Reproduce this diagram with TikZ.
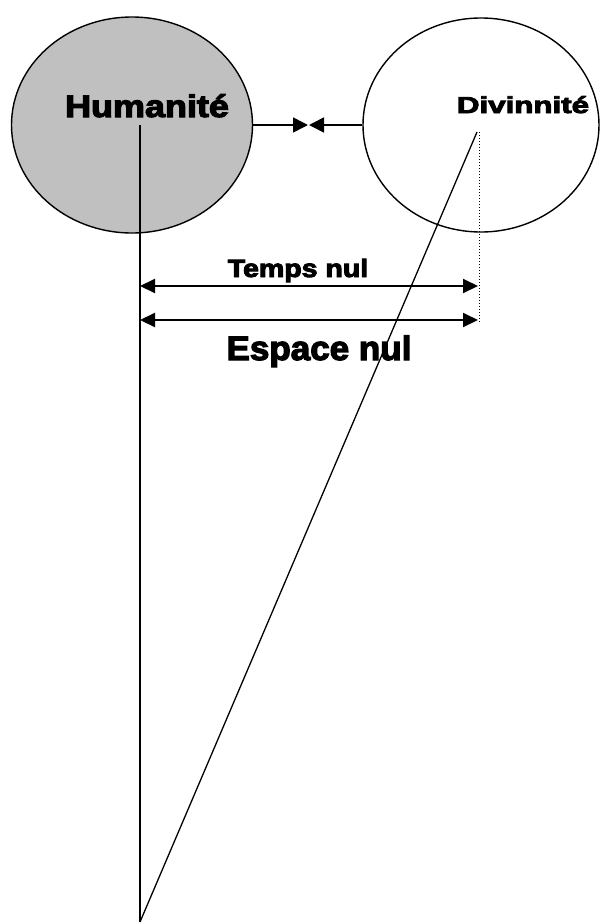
\documentclass[tikz,border=0pt]{standalone}
\usepackage{fontspec}
\usepackage{graphicx}
\usetikzlibrary{shapes.geometric,arrows.meta}
\newfontfamily\blk{Liberation Sans}[BoldFeatures={FakeBold=3.5}]
\definecolor{humgray}{HTML}{C0C0C0}
\tikzset{
  circ/.style={ellipse, draw=black, line width=1.4pt, inner sep=0pt},
  lbl/.style={anchor=base, inner sep=0pt, text=black},
  thinline/.style={line width=1.3pt},
  meetarrow/.style={line width=1.6pt, -{Triangle[length=15pt,width=15pt]}},
  spanarrow/.style={line width=2pt, {Triangle[length=15pt,width=14pt]}-{Triangle[length=15pt,width=14pt]}},
}
\begin{document}
\begin{tikzpicture}[x=1pt,y=-1pt]
\useasboundingbox (0,0) rectangle (600,924);
% circles
\node[circ, fill=humgray, minimum width=241pt, minimum height=216pt] (H) at (132,125) {};
\node[circ, fill=white, minimum width=236pt, minimum height=214pt] (D) at (481,125) {};
% labels
\node[lbl] (hl) at (147,117) {\blk\bfseries\fontsize{31}{30}\selectfont\scalebox{1.16}[1]{Humanité}};
\node[lbl] (dl) at (523,113) {\blk\bfseries\fontsize{23}{22}\selectfont\scalebox{1.36}[1]{Divinnité}};
\node[lbl] (tl) at (298,277) {\blk\bfseries\fontsize{25}{25}\selectfont\scalebox{1.14}[1]{Temps nul}};
\node[lbl] (el) at (319,360) {\blk\bfseries\fontsize{34}{33}\selectfont\scalebox{1.03}[1]{Espace nul}};
% coordinates
\coordinate (meetL) at (308,125);
\coordinate (meetR) at (309,125);
\coordinate (hTop) at (140,125);
\coordinate (bottom) at (140,922);
\coordinate (dTop) at (477,132);
\coordinate (dotTop) at (479,132);
\coordinate (dotBot) at (479,323);
\coordinate (tA) at (140,286);
\coordinate (tB) at (478,286);
\coordinate (eA) at (140,320);
\coordinate (eB) at (478,320);
% connectors
\draw[meetarrow] (H.east) -- (meetL);
\draw[meetarrow] (D.west) -- (meetR);
\draw[thinline] (hTop) -- (bottom);
\draw[thinline] (dTop) -- (bottom);
\draw[line width=1pt, dotted] (dotTop) -- (dotBot);
\draw[spanarrow] (tA) -- (tB);
\draw[spanarrow] (eA) -- (eB);
\end{tikzpicture}
\end{document}
